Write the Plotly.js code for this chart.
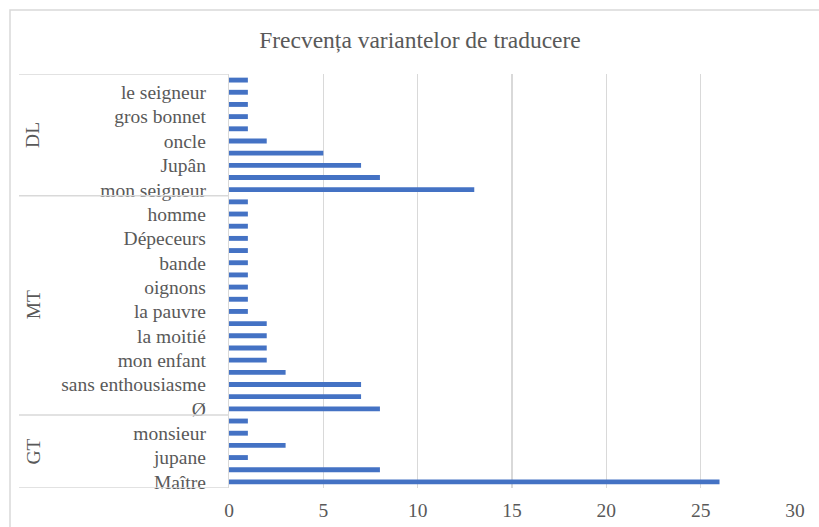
<!DOCTYPE html>
<html>
<head>
<meta charset="utf-8">
<script src="https://cdn.plot.ly/plotly-3.0.1.min.js"></script>
<style>html,body{margin:0;padding:0;background:#fff;}#chart{width:819px;height:527px;}</style>
</head>
<body>
<div id="chart"></div>
<script>
// Groups (bottom to top)
const groupNames = ['GT', 'MT', 'DL'];

// Categories per group, bottom to top (unlabeled ones are hidden in the reference)
const gtCategories = ['Maître', 'GT 2', 'jupane', 'GT 4', 'monsieur', 'GT 6'];
const gtValues     = [26, 8, 1, 3, 1, 1];

const mtCategories = ['Ø', 'MT 2', 'sans enthousiasme', 'MT 4', 'mon enfant', 'MT 6', 'la moitié', 'MT 8',
                      'la pauvre', 'MT 10', 'oignons', 'MT 12', 'bande', 'MT 14', 'Dépeceurs', 'MT 16', 'homme', 'MT 18'];
const mtValues     = [8, 7, 7, 3, 2, 2, 2, 2, 1, 1, 1, 1, 1, 1, 1, 1, 1, 1];

const dlCategories = ['mon seigneur', 'DL 2', 'Jupân', 'DL 4', 'oncle', 'DL 6', 'gros bonnet', 'DL 8', 'le seigneur', 'DL 10'];
const dlValues     = [13, 8, 7, 5, 2, 1, 1, 1, 1, 1];

// Visible tick labels
const shownLabels = ['Maître', 'jupane', 'monsieur', 'Ø', 'sans enthousiasme', 'mon enfant', 'la moitié',
                     'la pauvre', 'oignons', 'bande', 'Dépeceurs', 'homme', 'mon seigneur', 'Jupân', 'oncle',
                     'gros bonnet', 'le seigneur'];

const xTicks = [0, 5, 10, 15, 20, 25, 30];
const titleText = 'Frecvența variantelor de traducere';

const categories = [...gtCategories, ...mtCategories, ...dlCategories];
const values = [...gtValues, ...mtValues, ...dlValues];
const groupSizes = [gtCategories.length, mtCategories.length, dlCategories.length];

const FONT = 'Liberation Serif';
const GRAY = '#595959';
const LINE = '#d9d9d9';

const trace = {
  type: 'bar',
  orientation: 'h',
  x: values,
  y: categories,
  marker: {color: '#4472c4'},
  hoverinfo: 'x+y'
};

// Group separators and labels built from group sizes
const shapes = [];
const annotations = [];
let start = 0;
const sepX0 = (19 - 229) / 566;
shapes.push({type: 'line', xref: 'paper', yref: 'y', x0: sepX0, x1: 0, y0: -0.5, y1: -0.5, line: {color: LINE, width: 1.5}});
groupSizes.forEach((n, i) => {
  const end = start + n;
  shapes.push({type: 'line', xref: 'paper', yref: 'y', x0: sepX0, x1: 0, y0: end - 0.5, y1: end - 0.5, line: {color: LINE, width: 1.5}});
  annotations.push({
    xref: 'paper', yref: 'y', x: (33 - 229) / 566, y: (start + end - 1) / 2,
    text: groupNames[i], showarrow: false, textangle: -90,
    font: {family: FONT, size: 19.5, color: GRAY}, xanchor: 'center', yanchor: 'middle'
  });
  start = end;
});
// chart frame
shapes.push({type: 'rect', xref: 'paper', yref: 'paper', x0: (10 - 229) / 566, x1: 1.2, y0: -0.3, y1: (488 - 10) / 414,
             line: {color: LINE, width: 1.5}, layer: 'below'});

const layout = {
  width: 819, height: 527,
  margin: {l: 229, r: 24, t: 74, b: 39},
  paper_bgcolor: '#fff', plot_bgcolor: '#fff',
  font: {family: FONT, size: 19.5, color: GRAY},
  bargap: 0.6,
  showlegend: false,
  title: {text: titleText, font: {family: FONT, size: 23.5, color: GRAY},
          xref: 'container', x: 420 / 819, xanchor: 'center', yref: 'container', y: 1 - 40 / 527, yanchor: 'middle'},
  xaxis: {
    range: [0, 30], tickvals: xTicks, ticktext: xTicks.map(String),
    showgrid: true, gridcolor: LINE, gridwidth: 1.2, zeroline: false, showline: false,
    tickfont: {family: FONT, size: 19.5, color: GRAY}, ticks: '', ticklabelstandoff: 8, fixedrange: true
  },
  yaxis: {
    type: 'category', categoryorder: 'array', categoryarray: categories,
    range: [-0.5, categories.length - 0.5],
    tickmode: 'array', tickvals: shownLabels, ticktext: shownLabels,
    showgrid: false, showline: true, linecolor: LINE, linewidth: 1.2, zeroline: false,
    tickfont: {family: FONT, size: 19.5, color: GRAY}, ticks: '', ticklabelstandoff: 18, fixedrange: true
  },
  shapes: shapes,
  annotations: annotations
};

Plotly.newPlot('chart', [trace], layout, {displayModeBar: false, staticPlot: true});
</script>
</body>
</html>
